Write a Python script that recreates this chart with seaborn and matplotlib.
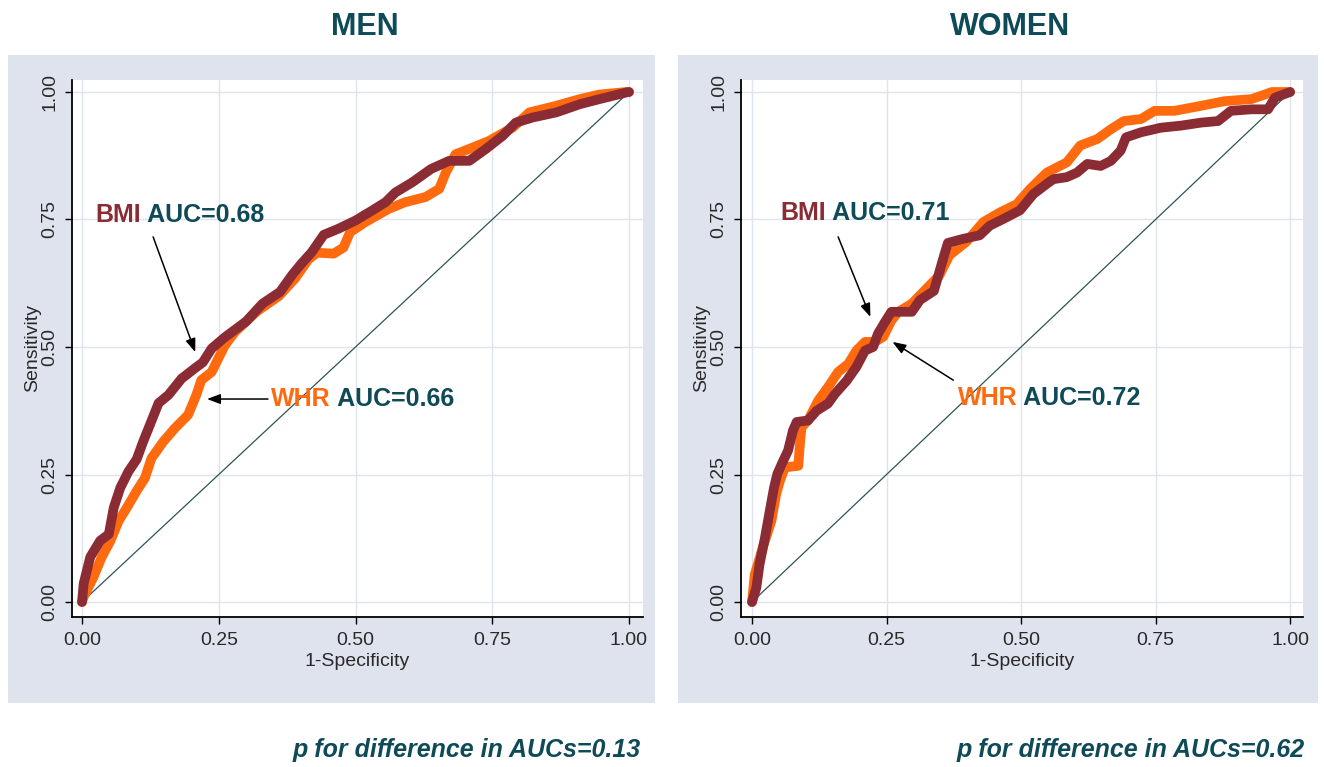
import numpy as np
import pandas as pd
import matplotlib
matplotlib.use("Agg")
import matplotlib.pyplot as plt
from matplotlib.patches import Rectangle
from matplotlib import font_manager as fm
import seaborn as sns

# ---------------- data ----------------
men_bmi_fpr = [0, 0.003, 0.015, 0.033, 0.049, 0.058, 0.07, 0.085, 0.10, 0.112, 0.124, 0.14, 0.158,
               0.182, 0.206, 0.221, 0.237, 0.261, 0.30, 0.33, 0.362, 0.384, 0.40, 0.42, 0.442, 0.469,
               0.5, 0.531, 0.555, 0.573, 0.604, 0.638, 0.671, 0.708, 0.738, 0.769, 0.793, 0.824,
               0.867, 0.91, 0.946, 0.995, 1.0]
men_bmi_tpr = [0, 0.036, 0.088, 0.12, 0.133, 0.185, 0.224, 0.256, 0.28, 0.315, 0.347, 0.39, 0.406,
               0.438, 0.458, 0.47, 0.497, 0.519, 0.55, 0.585, 0.608, 0.641, 0.662, 0.686, 0.72, 0.732,
               0.748, 0.768, 0.784, 0.803, 0.823, 0.849, 0.865, 0.865, 0.888, 0.914, 0.94, 0.95,
               0.96, 0.976, 0.986, 0.999, 1.0]

men_whr_fpr = [0, 0.003, 0.021, 0.036, 0.052, 0.067, 0.082, 0.1, 0.115, 0.127, 0.149, 0.17, 0.194,
               0.209, 0.218, 0.237, 0.249, 0.261, 0.28, 0.32, 0.36, 0.39, 0.414, 0.43, 0.46, 0.478,
               0.49, 0.518, 0.561, 0.591, 0.628, 0.653, 0.665, 0.683, 0.714, 0.744, 0.787, 0.818,
               0.867, 0.91, 0.946, 0.995, 1.0]
men_whr_tpr = [0, 0.01, 0.049, 0.088, 0.12, 0.159, 0.185, 0.218, 0.243, 0.282, 0.315, 0.341, 0.367,
               0.406, 0.435, 0.451, 0.477, 0.503, 0.53, 0.57, 0.60, 0.635, 0.672, 0.685, 0.683, 0.695,
               0.725, 0.745, 0.771, 0.784, 0.794, 0.81, 0.842, 0.878, 0.891, 0.904, 0.93, 0.96,
               0.973, 0.986, 0.995, 1.0, 1.0]

women_bmi_fpr = [0, 0.008, 0.014, 0.024, 0.033, 0.041, 0.047, 0.058, 0.067, 0.076, 0.083, 0.104,
                 0.12, 0.141, 0.154, 0.176, 0.194, 0.21, 0.225, 0.234, 0.247, 0.259, 0.297, 0.312,
                 0.338, 0.356, 0.364, 0.392, 0.423, 0.442, 0.467, 0.498, 0.523, 0.548, 0.56, 0.585,
                 0.604, 0.623, 0.648, 0.667, 0.685, 0.695, 0.723, 0.76, 0.797, 0.835, 0.866, 0.89,
                 0.928, 0.959, 0.972, 1.0]
women_bmi_tpr = [0, 0.028, 0.074, 0.126, 0.179, 0.225, 0.251, 0.277, 0.297, 0.336, 0.353, 0.356,
                 0.375, 0.389, 0.408, 0.434, 0.461, 0.493, 0.5, 0.526, 0.549, 0.569, 0.569, 0.592,
                 0.61, 0.676, 0.704, 0.712, 0.719, 0.738, 0.751, 0.768, 0.80, 0.82, 0.829, 0.833,
                 0.842, 0.859, 0.855, 0.865, 0.885, 0.911, 0.921, 0.93, 0.934, 0.94, 0.943, 0.963,
                 0.966, 0.966, 0.989, 1.0]

women_whr_fpr = [0, 0.005, 0.02, 0.036, 0.045, 0.052, 0.061, 0.086, 0.089, 0.092, 0.104, 0.123,
                 0.141, 0.16, 0.179, 0.194, 0.21, 0.228, 0.244, 0.259, 0.272, 0.297, 0.321, 0.348,
                 0.367, 0.398, 0.43, 0.461, 0.492, 0.517, 0.548, 0.585, 0.61, 0.642, 0.667, 0.691,
                 0.723, 0.748, 0.785, 0.835, 0.878, 0.928, 0.953, 0.966, 1.0]
women_whr_tpr = [0, 0.054, 0.107, 0.159, 0.212, 0.238, 0.264, 0.267, 0.31, 0.343, 0.356, 0.395,
                 0.421, 0.451, 0.467, 0.493, 0.51, 0.51, 0.52, 0.552, 0.569, 0.585, 0.611, 0.64,
                 0.68, 0.706, 0.745, 0.764, 0.78, 0.81, 0.842, 0.862, 0.895, 0.908, 0.927, 0.943,
                 0.947, 0.963, 0.963, 0.973, 0.982, 0.986, 0.995, 1.0, 1.0]

panel_titles = ["MEN", "WOMEN"]
auc_bmi = ["0.68", "0.71"]
auc_whr = ["0.66", "0.72"]
p_values = ["0.13", "0.62"]
tick_values = [0.0, 0.25, 0.5, 0.75, 1.0]
tick_labels = ["0.00", "0.25", "0.50", "0.75", "1.00"]
ref_line = [0.0, 1.0]

# ---------------- style ----------------
sns.set_style("white")
names = {f.name for f in fm.fontManager.ttflist}
narrow = "Liberation Sans Narrow" if "Liberation Sans Narrow" in names else "Liberation Sans"
plt.rcParams["font.family"] = ["Liberation Sans", "DejaVu Sans"]
plt.rcParams["lines.solid_joinstyle"] = "round"
plt.rcParams["lines.solid_capstyle"] = "round"

TEAL = "#0e4a57"
BMI_C = "#8b2c35"
WHR_C = "#ff6a0e"
PANEL_BG = "#dfe3ed"
GRID_C = "#dfe4ea"

fig = plt.figure(figsize=(13.24, 7.67), dpi=100)
fig.patch.set_facecolor("white")

W, H = 1324.0, 767.0
# outer grey panels (pixel boxes converted to figure fractions)
for (x0, x1) in [(8, 655), (678, 1318)]:
    fig.patches.append(Rectangle((x0 / W, (H - 703) / H), (x1 - x0) / W, 648 / H,
                                 transform=fig.transFigure, facecolor=PANEL_BG,
                                 edgecolor="none", zorder=-5))

axes_px = [(72, 643), (741, 1303)]
xlims = [(-0.0183, 1.0256), (-0.0205, 1.024)]
title_x = [365, 1010]
p_right = [641, 1305]

df_sets = [
    pd.concat([
        pd.DataFrame({"fpr": men_whr_fpr, "tpr": men_whr_tpr, "marker": "WHR"}),
        pd.DataFrame({"fpr": men_bmi_fpr, "tpr": men_bmi_tpr, "marker": "BMI"}),
    ]),
    pd.concat([
        pd.DataFrame({"fpr": women_whr_fpr, "tpr": women_whr_tpr, "marker": "WHR"}),
        pd.DataFrame({"fpr": women_bmi_fpr, "tpr": women_bmi_tpr, "marker": "BMI"}),
    ]),
]

ann = [
    dict(bmi_txt=(0.024, 0.759), bmi_tail=(0.130, 0.716), bmi_head=(0.207, 0.490),
         whr_txt=(0.3455, 0.398), whr_tail=(0.340, 0.398), whr_head=(0.2285, 0.398)),
    dict(bmi_txt=(0.052, 0.763), bmi_tail=(0.160, 0.716), bmi_head=(0.220, 0.559),
         whr_txt=(0.382, 0.40), whr_tail=(0.374, 0.435), whr_head=(0.261, 0.51)),
]

for i in range(2):
    l, r = axes_px[i]
    ax = fig.add_axes([l / W, (H - 617) / H, (r - l) / W, (617 - 80) / H])
    ax.set_zorder(2)
    ax.set_facecolor("white")
    ax.set_xlim(*xlims[i])
    ax.set_ylim(-0.0294, 1.0235)
    ax.set_xticks(tick_values)
    ax.set_yticks(tick_values)
    ax.set_xticklabels(tick_labels, fontfamily=narrow, fontsize=14, color="#2a2a2a")
    ax.set_yticklabels(tick_labels, fontfamily=narrow, fontsize=14, color="#2a2a2a",
                       rotation=90, va="center")
    ax.grid(True, color=GRID_C, linewidth=1.0)
    ax.set_axisbelow(True)
    for s in ["top", "right"]:
        ax.spines[s].set_visible(False)
    for s in ["left", "bottom"]:
        ax.spines[s].set_color("black")
        ax.spines[s].set_linewidth(1.3)
    ax.tick_params(axis="both", direction="out", length=5, width=1.0, color="black",
                   left=True, bottom=True)
    ax.tick_params(axis="x", pad=6)
    ax.tick_params(axis="y", pad=5)

    ax.plot(ref_line, ref_line, color="#2f5456", linewidth=0.9, zorder=2)

    sns.lineplot(data=df_sets[i], x="fpr", y="tpr", hue="marker",
                 hue_order=["WHR", "BMI"], palette={"WHR": WHR_C, "BMI": BMI_C},
                 estimator=None, sort=False, linewidth=7, legend=False, ax=ax,
                 zorder=3)

    ax.set_xlabel("1-Specificity", fontfamily=narrow, fontsize=14, color="#2a2a2a", labelpad=3)
    ax.set_ylabel("Sensitivity", fontfamily=narrow, fontsize=14, color="#2a2a2a", labelpad=0)

    a = ann[i]
    t1 = ax.text(*a["bmi_txt"], "BMI", color=BMI_C, fontsize=18, fontweight="bold",
                 va="center", ha="left", zorder=5)
    ax.annotate(" AUC=" + auc_bmi[i], xy=(1, 0), xycoords=t1, va="bottom", ha="left",
                color=TEAL, fontsize=18, fontweight="bold", zorder=5)
    t2 = ax.text(*a["whr_txt"], "WHR", color=WHR_C, fontsize=18, fontweight="bold",
                 va="center", ha="left", zorder=5)
    ax.annotate(" AUC=" + auc_whr[i], xy=(1, 0), xycoords=t2, va="bottom", ha="left",
                color=TEAL, fontsize=18, fontweight="bold", zorder=5)
    arrowprops = dict(arrowstyle="-|>,head_length=0.8,head_width=0.3", color="black",
                      lw=1.1, shrinkA=0, shrinkB=0)
    ax.annotate("", xy=a["bmi_head"], xytext=a["bmi_tail"], arrowprops=arrowprops, zorder=6)
    ax.annotate("", xy=a["whr_head"], xytext=a["whr_tail"], arrowprops=arrowprops, zorder=6)

    fig.text(title_x[i] / W, 1 - 27 / H, panel_titles[i], ha="center", va="center",
             fontsize=22, fontweight="bold", color=TEAL)
    fig.text(p_right[i] / W, 1 - 750 / H, "p for difference in AUCs=" + p_values[i],
             ha="right", va="center", fontsize=18, fontweight="bold", fontstyle="italic",
             color=TEAL)

fig.savefig("out.png", dpi=100, facecolor="white")
